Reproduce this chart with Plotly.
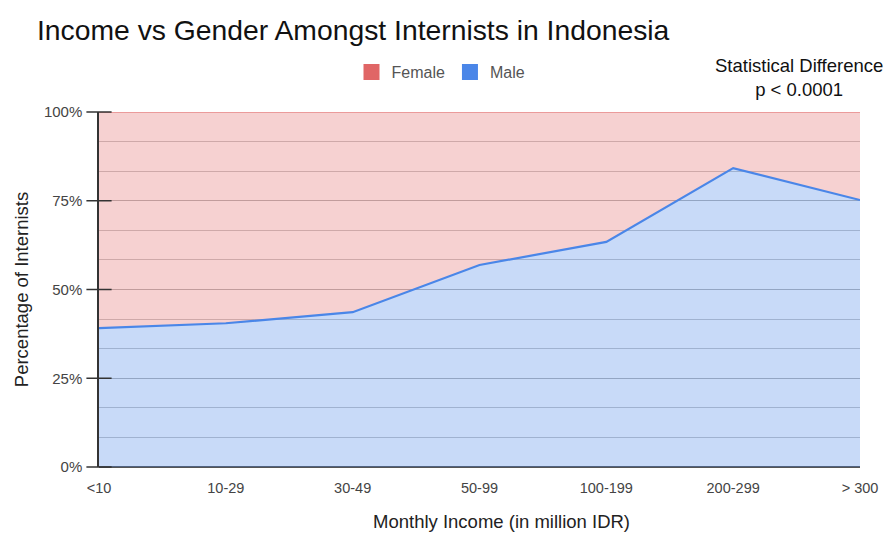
import plotly.graph_objects as go

# Monthly income bands (million IDR)
income_bands = ["<10", "10-29", "30-49", "50-99", "100-199", "200-299", "> 300"]
# Share of male internists in each band (%)
male_pct = [39.1, 40.5, 43.6, 56.9, 63.4, 84.2, 75.2]
# Remaining share is female
female_pct = [round(100 - m, 1) for m in male_pct]

y_ticks = [0, 25, 50, 75, 100]
y_tick_labels = ["0%", "25%", "50%", "75%", "100%"]

MALE_LINE = "#4a86e8"
FEMALE_LINE = "#e06666"
FONT = "Liberation Sans, Arial, sans-serif"

fig = go.Figure()

fig.add_trace(go.Scatter(
    x=income_bands, y=male_pct, name="Male", stackgroup="g",
    mode="lines", line=dict(color=MALE_LINE, width=2.2),
    fillcolor="rgba(74,134,232,0.30)", showlegend=False,
))
fig.add_trace(go.Scatter(
    x=income_bands, y=female_pct, name="Female", stackgroup="g",
    mode="lines", line=dict(color=FEMALE_LINE, width=1),
    fillcolor="rgba(224,102,102,0.30)", showlegend=False,
))

# Square legend swatches
for name, col in [("Female", FEMALE_LINE), ("Male", MALE_LINE)]:
    fig.add_trace(go.Scatter(
        x=[None], y=[None], mode="markers", name=name,
        marker=dict(symbol="square", size=16, color=col),
    ))

# Crossing tick marks on the y axis at each major tick value
fig.add_trace(go.Scatter(
    x=[income_bands[0]] * len(y_ticks), y=y_ticks, mode="markers",
    marker=dict(symbol="line-ew", size=18, color="#333",
                line=dict(color="#333", width=1.5)),
    cliponaxis=False, showlegend=False, hoverinfo="skip",
))

fig.update_layout(
    width=890, height=534,
    margin=dict(l=99, r=30, t=112, b=67),
    paper_bgcolor="white", plot_bgcolor="white",
    font=dict(family=FONT, size=15, color="#444"),
    title=dict(
        text="Income vs Gender Amongst Internists in Indonesia",
        x=37 / 890, xanchor="left", y=1 - 30 / 534, yanchor="middle",
        font=dict(family=FONT, size=28.3, color="#111"),
    ),
    legend=dict(
        orientation="h", x=(441 - 99) / 761, xanchor="center",
        y=1 - 72 / 534, yref="container", yanchor="middle",
        traceorder="normal",
        font=dict(family=FONT, size=16, color="#555"),
    ),
    showlegend=True,
    xaxis=dict(
        type="category", range=[0, len(income_bands) - 1],
        showgrid=False, showline=False, zeroline=False,
        ticklabelstandoff=10,
        tickfont=dict(family=FONT, size=14.5, color="#444"),
    ),
    yaxis=dict(
        range=[0, 100], tickvals=y_ticks, ticktext=y_tick_labels,
        showgrid=True, gridcolor="#b4b4b4", gridwidth=1,
        minor=dict(dtick=25 / 3, showgrid=True, gridcolor="#c6c6c6",
                   gridwidth=1),
        showline=True, linecolor="#333", linewidth=1.5,
        ticks="", ticklabelstandoff=12,
        zeroline=True, zerolinecolor="#555", zerolinewidth=1.5,
        tickfont=dict(family=FONT, size=15, color="#444"),
        title=dict(text="Percentage of Internists",
                   font=dict(family=FONT, size=18.5, color="#222"),
                   standoff=10),
    ),
)

# X-axis title
fig.add_annotation(
    text="Monthly Income (in million IDR)", xref="paper", yref="paper",
    x=(501 - 99) / 761, y=-(521 - 467) / 355, xanchor="center",
    yanchor="middle", showarrow=False,
    font=dict(family=FONT, size=18.5, color="#222"),
)

fig.add_annotation(
    text="Statistical Difference<br>p < 0.0001", xref="paper", yref="paper",
    x=(885 - 99) / 761, y=(467 - 78) / 355, xanchor="right",
    yanchor="middle", showarrow=False, align="center",
    font=dict(family=FONT, size=18.5, color="#111"),
)

fig.write_html("out.html")
